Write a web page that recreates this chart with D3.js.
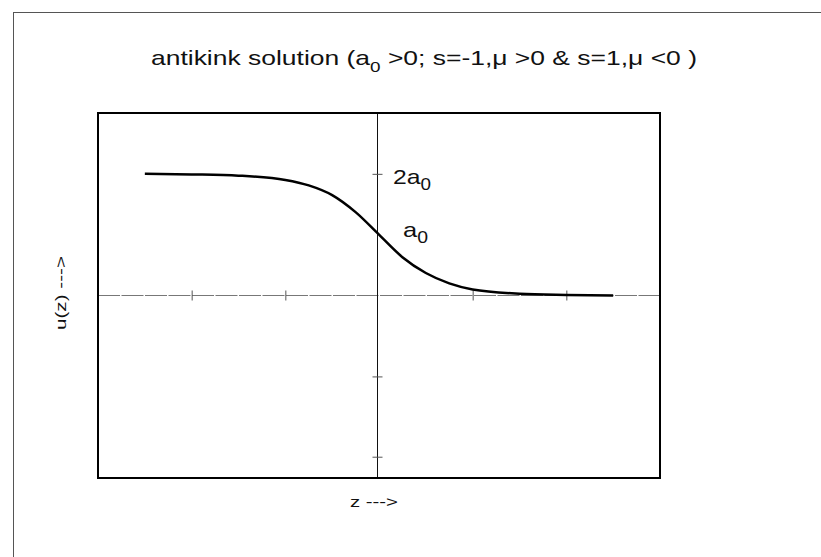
<!DOCTYPE html>
<html>
<head>
<meta charset="utf-8">
<script src="https://cdn.jsdelivr.net/npm/d3@7"></script>
<style>
  body { margin: 0; background: #fff; }
  text { font-family: "Liberation Sans", Arial, sans-serif; fill: #111; }
</style>
</head>
<body>
<svg id="chart" width="821" height="557"></svg>
<script>
// curve: z in tick units, u in units of a0
const zValues = [-2.5, -2.0, -1.5, -1.0, -0.75, -0.5, -0.25, 0, 0.25, 0.5, 0.75, 1.0, 1.5, 2.0, 2.5];
const uValues = [2.0, 1.99, 1.97, 1.9, 1.81, 1.65, 1.37, 1.0, 0.63, 0.37, 0.2, 0.1, 0.03, 0.01, 0.0];

// ticks
const xTicks = [-2, -1, 1, 2];
const yTicks = [2, -1.33, -2.65];

// labels placed next to the vertical axis
const labels = [
  { text: "2a", sub: "0", u: 2, dx: 14, dy: 10, width: 38 },
  { text: "a", sub: "0", u: 1, dx: 24, dy: 2, width: 25 }
];

const svg = d3.select("#chart");

const x = d3.scaleLinear().domain([-3, 3]).range([98, 660]);
const y = d3.scaleLinear().domain([-3, 3]).range([478, 113]);

// page frame (scan edge)
svg.append("line")
  .attr("x1", 13).attr("x2", 821)
  .attr("y1", 12.5).attr("y2", 12.5)
  .attr("stroke", "#555").attr("stroke-width", 1);
svg.append("line")
  .attr("x1", 13.5).attr("x2", 13.5)
  .attr("y1", 12).attr("y2", 557)
  .attr("stroke", "#555").attr("stroke-width", 1);

// title
const title = svg.append("text")
  .attr("x", 151)
  .attr("y", 65)
  .attr("font-size", 21)
  .attr("textLength", 546)
  .attr("lengthAdjust", "spacingAndGlyphs");
title.append("tspan").text("antikink solution (a");
title.append("tspan").attr("dy", 7).attr("font-size", 15).text("0");
title.append("tspan").attr("dy", -7).text(" >0; s=-1,\u03bc >0 & s=1,\u03bc <0 )");

// zero line
svg.append("line")
  .attr("x1", x(-3)).attr("x2", x(3))
  .attr("y1", y(0)).attr("y2", y(0))
  .attr("stroke", "#777")
  .attr("stroke-width", 1)
  .attr("stroke-dasharray", "22,1.5");

// vertical axis line
svg.append("line")
  .attr("x1", x(0) - 1.5).attr("x2", x(0) - 1.5)
  .attr("y1", y(3)).attr("y2", y(-3))
  .attr("stroke", "#111")
  .attr("stroke-width", 1);

// x ticks crossing the zero line
const xAxis = svg.append("g")
  .attr("transform", `translate(0,${y(0) - 5})`)
  .call(d3.axisBottom(x).tickValues(xTicks).tickSize(10).tickFormat(""));
xAxis.select(".domain").remove();
xAxis.selectAll(".tick line").attr("stroke", "#555");

// y ticks crossing the vertical axis
const yAxis = svg.append("g")
  .attr("transform", `translate(${x(0) + 3.5},0)`)
  .call(d3.axisLeft(y).tickValues(yTicks).tickSize(10).tickFormat(""));
yAxis.select(".domain").remove();
yAxis.selectAll(".tick line").attr("stroke", "#555");

// curve
const points = zValues.map((z, i) => [z, uValues[i]]);
const line = d3.line()
  .x(d => x(d[0]))
  .y(d => y(d[1]))
  .curve(d3.curveMonotoneX);

svg.append("path")
  .datum(points)
  .attr("d", line)
  .attr("fill", "none")
  .attr("stroke", "#000")
  .attr("stroke-width", 2.5);

// plot box
svg.append("rect")
  .attr("x", x(-3)).attr("y", y(3))
  .attr("width", x(3) - x(-3))
  .attr("height", y(-3) - y(3))
  .attr("fill", "none")
  .attr("stroke", "#000")
  .attr("stroke-width", 2);

// curve labels
labels.forEach(l => {
  const t = svg.append("text")
    .attr("x", x(0) + l.dx)
    .attr("y", y(l.u) + l.dy)
    .attr("font-size", 21)
    .attr("textLength", l.width)
    .attr("lengthAdjust", "spacingAndGlyphs");
  t.append("tspan").text(l.text);
  t.append("tspan").attr("dy", 6).attr("font-size", 16).text(l.sub);
});

// axis labels
svg.append("text")
  .attr("x", 350)
  .attr("y", 507)
  .attr("font-size", 15)
  .attr("textLength", 48)
  .attr("lengthAdjust", "spacingAndGlyphs")
  .text("z --->");

svg.append("text")
  .attr("transform", "translate(66,330) rotate(-90)")
  .attr("font-size", 15)
  .attr("textLength", 74)
  .attr("lengthAdjust", "spacingAndGlyphs")
  .text("u(z) --->");
</script>
</body>
</html>
